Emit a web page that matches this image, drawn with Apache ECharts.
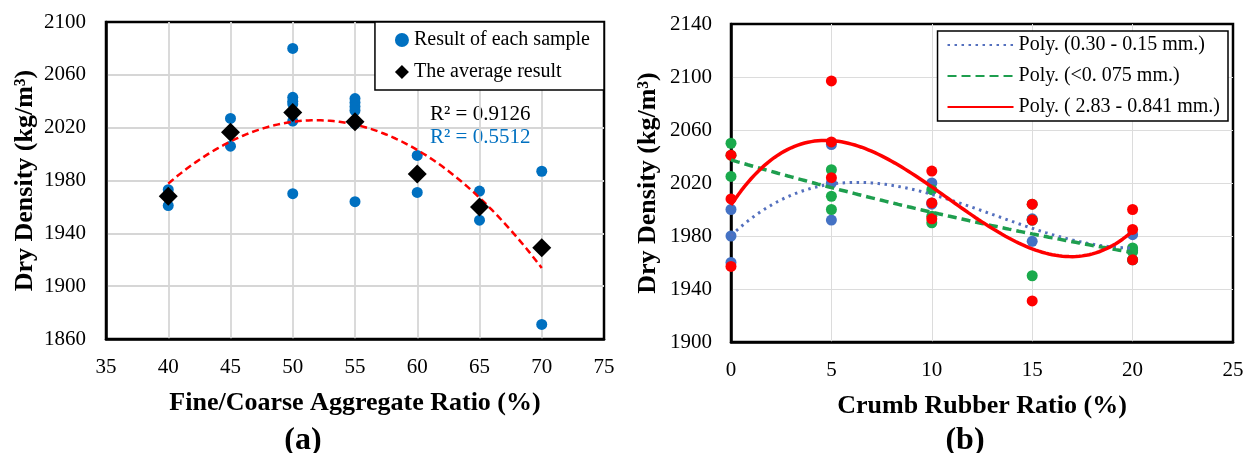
<!DOCTYPE html>
<html>
<head>
<meta charset="utf-8">
<script src="https://cdn.jsdelivr.net/npm/echarts/dist/echarts.min.js"></script>
<style>
html,body{margin:0;padding:0;background:#fff;}
#chart{width:1253px;height:453px;}
</style>
</head>
<body>
<div id="chart"></div>
<script>
// ---------- Data: chart (a) ----------
const aggregateRatios = [40, 45, 50, 55, 60, 65, 70];
const sampleDensities = [
  [1973, 1968, 1961],
  [2027, 2017, 2006],
  [2080, 2043, 2040, 2038, 2025, 1970],
  [2042, 2039, 2036, 2033, 2023, 1964],
  [1999, 1985, 1971],
  [1972, 1960, 1950],
  [1987, 1871]
];
const averageDensities = [1968, 2016.5, 2031.5, 2024.5, 1985, 1960, 1929];
const r2Labels = ['R² = 0.9126', 'R² = 0.5512'];

// ---------- Data: chart (b) ----------
const rubberRatios = [0, 5, 10, 15, 20];
const densityFine = [      // 0.30 - 0.15 mm
  [2000, 1980, 1960], [2049, 2020, 1992], [2020, 2005, 2004], [1992, 1993, 1976], [1981, 1969, 1962]
];
const densityFinest = [    // <0.075 mm
  [2050, 2041, 2025], [2030, 2010, 2000], [2015, 1995, 1990], [2004, 1992, 1950], [1971, 1968, 1962]
];
const densityCoarse = [    // 2.83 - 0.841 mm
  [2041, 2008, 1957], [2097, 2051, 2024], [2029, 2005, 1993], [2004, 1992, 1931], [2000, 1985, 1962]
];
const trendNames = ['Poly. (0.30 - 0.15 mm.)', 'Poly. (<0. 075 mm.)', 'Poly. ( 2.83 - 0.841 mm.)'];

// ---------- helpers ----------
function toPairs(xs, groups) {
  const out = [];
  xs.forEach((x, i) => groups[i].forEach(v => out.push([x, v])));
  return out;
}
function polyFit(pairs, order) {
  const n = order + 1;
  const xm = pairs.reduce((s, p) => s + p[0], 0) / pairs.length;
  const A = Array.from({length: n}, () => new Array(n).fill(0));
  const b = new Array(n).fill(0);
  pairs.forEach(([x, y]) => {
    const u = x - xm;
    const pw = [];
    for (let k = 0; k < n; k++) pw.push(Math.pow(u, k));
    for (let r = 0; r < n; r++) {
      b[r] += pw[r] * y;
      for (let c = 0; c < n; c++) A[r][c] += pw[r] * pw[c];
    }
  });
  for (let i = 0; i < n; i++) {
    let piv = i;
    for (let r = i + 1; r < n; r++) if (Math.abs(A[r][i]) > Math.abs(A[piv][i])) piv = r;
    [A[i], A[piv]] = [A[piv], A[i]]; [b[i], b[piv]] = [b[piv], b[i]];
    for (let r = i + 1; r < n; r++) {
      const f = A[r][i] / A[i][i];
      for (let c = i; c < n; c++) A[r][c] -= f * A[i][c];
      b[r] -= f * b[i];
    }
  }
  const coef = new Array(n).fill(0);
  for (let i = n - 1; i >= 0; i--) {
    let s = b[i];
    for (let c = i + 1; c < n; c++) s -= A[i][c] * coef[c];
    coef[i] = s / A[i][i];
  }
  return x => { const u = x - xm; let s = 0; for (let k = 0; k < n; k++) s += coef[k] * Math.pow(u, k); return s; };
}
function trendCurve(pairs, order, x0, x1) {
  const f = polyFit(pairs, order);
  const pts = [];
  const steps = 120;
  for (let i = 0; i <= steps; i++) { const x = x0 + (x1 - x0) * i / steps; pts.push([x, f(x)]); }
  return pts;
}

const samplePairs = toPairs(aggregateRatios, sampleDensities);
const averagePairs = aggregateRatios.map((x, i) => [x, averageDensities[i]]);
const finePairs = toPairs(rubberRatios, densityFine);
const finestPairs = toPairs(rubberRatios, densityFinest);
const coarsePairs = toPairs(rubberRatios, densityCoarse);

const FONT = '"Liberation Serif", "Times New Roman", serif';
const plain = v => String(v);
const axisLabel = {fontFamily: FONT, fontSize: 21, color: '#000', formatter: plain};
const nameStyle = {fontFamily: FONT, fontSize: 26, fontWeight: 'bold', color: '#000'};
const gridSplit = {show: true, showMinLine: false, showMaxLine: false, lineStyle: {color: '#d6d6d6', width: 1.8}};
const gridSplitB = {show: true, showMinLine: false, showMaxLine: false, lineStyle: {color: '#dcdcdc', width: 1}};
const blackLine = {show: true, lineStyle: {color: '#000', width: 2.5}};

const chart = echarts.init(document.getElementById('chart'), null, {renderer: 'canvas'});
const option = {
  backgroundColor: '#fff',
  animation: false,
  grid: [
    {left: 106, top: 22, width: 498, height: 317, show: true, borderColor: '#000', borderWidth: 2.5, backgroundColor: 'transparent'},
    {left: 731, top: 24, width: 502, height: 318, show: true, borderColor: '#000', borderWidth: 2.5, backgroundColor: 'transparent'}
  ],
  xAxis: [
    {gridIndex: 0, type: 'value', min: 35, max: 75, interval: 5,
     axisLine: blackLine, axisTick: {show: false},
     axisLabel: Object.assign({}, axisLabel, {margin: 18}),
     splitLine: gridSplit,
     name: 'Fine/Coarse Aggregate Ratio (%)', nameLocation: 'middle', nameGap: 51, nameTextStyle: nameStyle},
    {gridIndex: 1, type: 'value', min: 0, max: 25, interval: 5,
     axisLine: blackLine, axisTick: {show: false},
     axisLabel: Object.assign({}, axisLabel, {margin: 18}),
     splitLine: gridSplitB,
     name: 'Crumb Rubber Ratio (%)', nameLocation: 'middle', nameGap: 51, nameTextStyle: nameStyle}
  ],
  yAxis: [
    {gridIndex: 0, type: 'value', min: 1860, max: 2100, interval: 40,
     axisLine: blackLine, axisTick: {show: false},
     axisLabel: Object.assign({}, axisLabel, {margin: 20}),
     splitLine: gridSplit,
     name: 'Dry Density (kg/m³)', nameLocation: 'middle', nameGap: 68, nameTextStyle: nameStyle},
    {gridIndex: 1, type: 'value', min: 1900, max: 2140, interval: 40,
     axisLine: blackLine, axisTick: {show: false},
     axisLabel: Object.assign({}, axisLabel, {margin: 19}),
     splitLine: gridSplitB,
     name: 'Dry Density (kg/m³)', nameLocation: 'middle', nameGap: 70, nameTextStyle: nameStyle}
  ],
  legend: [
    {data: ['Result of each sample', 'The average result'],
     orient: 'vertical', right: 649, top: 22,
     backgroundColor: '#fff', borderColor: '#000', borderWidth: 1.5,
     padding: [8, 14, 8, 20], itemGap: 12, itemWidth: 14, itemHeight: 14,
     textStyle: {fontFamily: FONT, fontSize: 20, color: '#000'}},
    {data: trendNames,
     orient: 'vertical', right: 25, top: 31,
     backgroundColor: '#fff', borderColor: '#000', borderWidth: 1.5,
     padding: [4, 8, 4, 9], itemGap: 11, itemWidth: 66, itemHeight: 14,
     itemStyle: {opacity: 0, color: 'rgba(0,0,0,0)', borderColor: 'rgba(0,0,0,0)', borderWidth: 0},
     textStyle: {fontFamily: FONT, fontSize: 20, color: '#000'}}
  ],
  title: [
    {text: '(a)', left: 298, top: 420, textAlign: 'center', textStyle: {fontFamily: FONT, fontSize: 32, fontWeight: 'bold', color: '#000'}},
    {text: '(b)', left: 960, top: 420, textAlign: 'center', textStyle: {fontFamily: FONT, fontSize: 32, fontWeight: 'bold', color: '#000'}}
  ],
  graphic: [
    {type: 'text', left: 430, top: 104, style: {text: r2Labels[0], font: '21px ' + FONT, fill: '#000'}},
    {type: 'text', left: 430, top: 127, style: {text: r2Labels[1], font: '21px ' + FONT, fill: '#0070C0'}}
  ],
  series: [
    {name: 'Result of each sample', type: 'scatter', xAxisIndex: 0, yAxisIndex: 0, data: samplePairs,
     symbol: 'circle', symbolSize: 11, itemStyle: {color: '#0070C0', opacity: 1}, z: 3, clip: false},
    {name: 'trendA', type: 'line', xAxisIndex: 0, yAxisIndex: 0,
     data: trendCurve(samplePairs, 2, 40, 70), showSymbol: false, symbol: 'none', smooth: false,
     lineStyle: {color: '#FF0000', width: 2.5, type: [7, 4]}, z: 4, silent: true},
    {name: 'The average result', type: 'scatter', xAxisIndex: 0, yAxisIndex: 0, data: averagePairs,
     symbol: 'diamond', symbolSize: [19, 19], itemStyle: {color: '#000', opacity: 1}, z: 5, clip: false},

    {name: 'pts-fine', type: 'scatter', xAxisIndex: 1, yAxisIndex: 1, data: finePairs,
     symbol: 'circle', symbolSize: 11, itemStyle: {color: '#4472C4', opacity: 1}, z: 3, clip: false},
    {name: 'pts-finest', type: 'scatter', xAxisIndex: 1, yAxisIndex: 1, data: finestPairs,
     symbol: 'circle', symbolSize: 11, itemStyle: {color: '#1AAA4C', opacity: 1}, z: 3, clip: false},
    {name: 'pts-coarse', type: 'scatter', xAxisIndex: 1, yAxisIndex: 1, data: coarsePairs,
     symbol: 'circle', symbolSize: 11, itemStyle: {color: '#FF0000', opacity: 1}, z: 3, clip: false},

    {name: trendNames[0], type: 'line', xAxisIndex: 1, yAxisIndex: 1,
     data: trendCurve(finePairs, 3, 0, 20), showSymbol: false, symbol: 'none',
     lineStyle: {color: '#5470BE', width: 3, type: [2.5, 4.5]}, itemStyle: {color: '#5470BE'}, z: 4, silent: true},
    {name: trendNames[1], type: 'line', xAxisIndex: 1, yAxisIndex: 1,
     data: trendCurve(finestPairs, 2, 0, 20), showSymbol: false, symbol: 'none',
     lineStyle: {color: '#1E9E4E', width: 3.5, type: [9, 5]}, itemStyle: {color: '#1E9E4E'}, z: 4, silent: true},
    {name: trendNames[2], type: 'line', xAxisIndex: 1, yAxisIndex: 1,
     data: trendCurve(coarsePairs, 3, 0, 20), showSymbol: false, symbol: 'none',
     lineStyle: {color: '#FF0000', width: 3.5, type: 'solid'}, itemStyle: {color: '#FF0000'}, z: 4, silent: true}
  ]
};
chart.setOption(option);
</script>
</body>
</html>
